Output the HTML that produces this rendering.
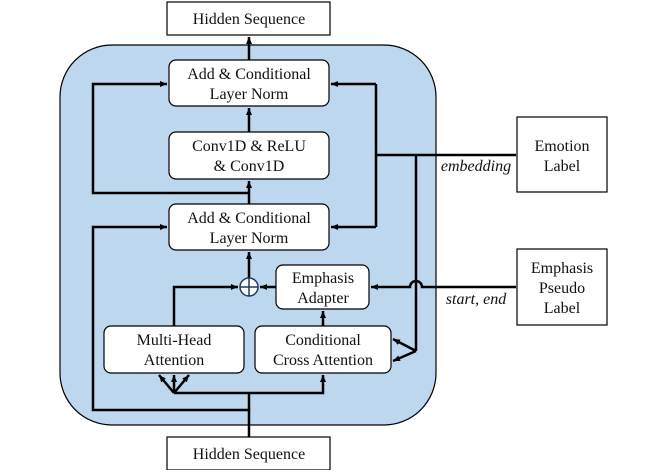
<!DOCTYPE html>
<html><head><meta charset="utf-8"><style>
body{margin:0;background:#fff;}
svg text{font-family:"Liberation Serif","DejaVu Serif",serif;font-size:16px;fill:#111;}
</style></head><body>
<svg width="664" height="470" viewBox="0 0 664 470" xmlns="http://www.w3.org/2000/svg" font-family="Liberation Serif, DejaVu Serif, serif">
<defs>
<marker id="a" markerWidth="8" markerHeight="8" refX="7" refY="4" orient="auto" markerUnits="userSpaceOnUse">
<path d="M0,1 L7,4 L0,7 z" fill="#000"/></marker>
</defs>
<rect x="60" y="45" width="376" height="380" rx="52" fill="#bdd7ee" stroke="#000" stroke-width="1.2"/>
<g fill="#fff" stroke="#000" stroke-width="1.2">
<rect x="167" y="2" width="163" height="33"/>
<rect x="167" y="437" width="163" height="33"/>
<rect x="517" y="117" width="90" height="75"/>
<rect x="517" y="249" width="90" height="76"/>
<rect x="169" y="60" width="160" height="46" rx="7"/>
<rect x="169" y="132" width="160" height="47" rx="7"/>
<rect x="169" y="204" width="160" height="46" rx="7"/>
<rect x="276" y="265" width="93" height="44" rx="7"/>
<rect x="104" y="326" width="140" height="47" rx="7"/>
<rect x="255" y="326" width="136" height="47" rx="7"/>
</g>
<g stroke="#000" stroke-width="2.5" fill="none">
<line x1="249" y1="60" x2="249" y2="37" marker-end="url(#a)"/>
<line x1="249" y1="132" x2="249" y2="108" marker-end="url(#a)"/>
<line x1="249" y1="204" x2="249" y2="181" marker-end="url(#a)"/>
<polyline points="249,193 93,193 93,84 167,84" marker-end="url(#a)"/>
<polyline points="249,437 249,410 93,410 93,227 167,227" marker-end="url(#a)"/>
<polyline points="516,155 376,155"/>
<polyline points="376,84 376,227"/>
<line x1="376" y1="84" x2="331" y2="84" marker-end="url(#a)"/>
<line x1="376" y1="227" x2="331" y2="227" marker-end="url(#a)"/>
<polyline points="416,155 416,351"/>
<line x1="416" y1="351" x2="393" y2="339" marker-end="url(#a)"/>
<line x1="416" y1="351" x2="393" y2="361" marker-end="url(#a)"/>
<path d="M516,287 L422,287 A6,6 0 0 0 410,287 L371,287" marker-end="url(#a)"/>
<line x1="276" y1="287" x2="260" y2="287" marker-end="url(#a)"/>
<line x1="249" y1="278" x2="249" y2="252" marker-end="url(#a)"/>
<polyline points="174,326 174,287 238,287" marker-end="url(#a)"/>
<line x1="323" y1="326" x2="323" y2="311" marker-end="url(#a)"/>
<polyline points="174,393 323,393 323,375" marker-end="url(#a)"/>
<line x1="174" y1="393" x2="159" y2="375" marker-end="url(#a)"/>
<line x1="174" y1="393" x2="174" y2="375" marker-end="url(#a)"/>
<line x1="174" y1="393" x2="189" y2="375" marker-end="url(#a)"/>
<line x1="249" y1="393" x2="249" y2="410"/>
</g>
<circle cx="249" cy="287" r="9" fill="#fff" stroke="#1f3864" stroke-width="1.5"/>
<line x1="240" y1="287" x2="258" y2="287" stroke="#1f3864" stroke-width="1.5"/>
<line x1="249" y1="278" x2="249" y2="296" stroke="#1f3864" stroke-width="1.5"/>
<g text-anchor="middle">
<text x="249" y="24">Hidden Sequence</text>
<text x="249" y="459">Hidden Sequence</text>
<text x="249" y="79">Add &amp; Conditional</text>
<text x="249" y="99">Layer Norm</text>
<text x="249" y="151">Conv1D &amp; ReLU</text>
<text x="249" y="171">&amp; Conv1D</text>
<text x="249" y="223">Add &amp; Conditional</text>
<text x="249" y="243">Layer Norm</text>
<text x="323" y="283">Emphasis</text>
<text x="323" y="303">Adapter</text>
<text x="174" y="345">Multi-Head</text>
<text x="174" y="365">Attention</text>
<text x="323" y="345">Conditional</text>
<text x="323" y="365">Cross Attention</text>
<text x="562" y="151">Emotion</text>
<text x="562" y="171">Label</text>
<text x="562" y="273">Emphasis</text>
<text x="562" y="293">Pseudo</text>
<text x="562" y="313">Label</text>
<text x="476" y="171" font-style="italic">embedding</text>
<text x="476" y="304" font-style="italic">start, end</text>
</g>
</svg>
</body></html>
